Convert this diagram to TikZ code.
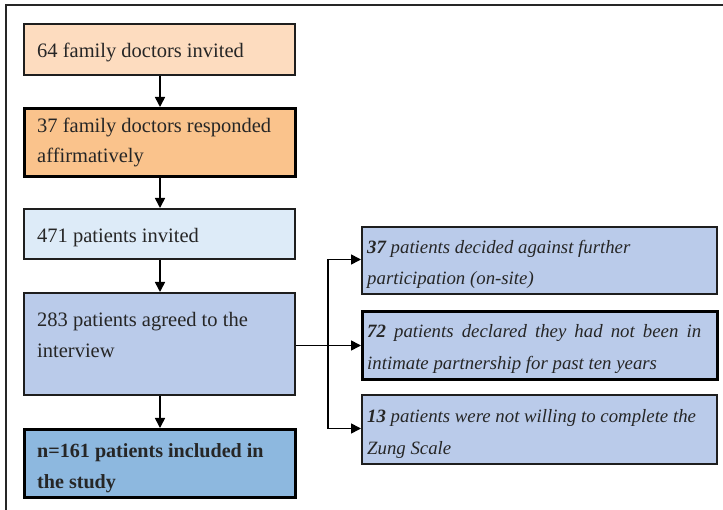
\documentclass[tikz,border=0pt]{standalone}
\usepackage{fontspec}
\setmainfont{Liberation Serif}
\usetikzlibrary{arrows.meta}
\definecolor{cPeach}{HTML}{FDDCBF}
\definecolor{cOrange}{HTML}{FAC38C}
\definecolor{cPale}{HTML}{DDEBF8}
\definecolor{cPeri}{HTML}{BACBEA}
\definecolor{cMid}{HTML}{8DB8DF}
\definecolor{cLine}{HTML}{1E1E1E}
\tikzset{
  box/.style={draw=cLine, line width=1.6pt, rectangle, inner sep=0pt, anchor=north west},
  thickbox/.style={box, draw=black, line width=3pt},
  txt/.style={anchor=base west, inner sep=0pt, font=\fontsize{20.5}{30}\selectfont, text=black!85},
  btxt/.style={txt, font=\fontsize{20.1}{30}\selectfont\bfseries},
  itxt/.style={txt, font=\fontsize{18.8}{30}\selectfont\itshape},
  conn/.style={line width=1.6pt, draw=black},
  arr/.style={conn, -{Triangle[length=10pt,width=10pt]}},
}
\begin{document}
\begin{tikzpicture}[x=1pt,y=-1pt]
\useasboundingbox (0,0) rectangle (723,510);
% outer frame
\draw[line width=2pt, draw=black!85] (6,514) -- (6,5) -- (725,5);

% left column
\node[box, fill=cPeach, minimum width=271pt, minimum height=51pt] (b1) at (23,23) {};
\node[thickbox, fill=cOrange, minimum width=271pt, minimum height=68pt] (b2) at (23,107) {};
\node[box, fill=cPale, minimum width=271pt, minimum height=50pt] (b3) at (23,208) {};
\node[box, fill=cPeri, minimum width=271pt, minimum height=102pt] (b4) at (23,292) {};
\node[thickbox, fill=cMid, minimum width=271pt, minimum height=68pt] (b5) at (23,428) {};

\node[txt] (t1) at (37,58) {64 family doctors invited};
\node[txt] (t2a) at (37,133) {37 family doctors responded};
\node[txt] (t2b) at (37,163) {affirmatively};
\node[txt] (t3) at (37,243) {471 patients invited};
\node[txt] (t4a) at (37,327) {283 patients agreed to the};
\node[txt] (t4b) at (37,358) {interview};
\node[btxt] (t5a) at (37,457) {n=161 patients included in};
\node[btxt] (t5b) at (37,488) {the study};

% right column
\node[box, fill=cPeri, minimum width=355pt, minimum height=67pt] (r1) at (361,226) {};
\node[thickbox, fill=cPeri, minimum width=355pt, minimum height=68pt] (r2) at (361,310) {};
\node[box, fill=cPeri, line width=2.2pt, minimum width=355pt, minimum height=69pt] (r3) at (361,394) {};

\node[itxt] (s1a) at (367,254) {\textbf{37} patients decided against further};
\node[itxt] (s1b) at (367,285) {participation (on-site)};
\node[itxt] (s2a) at (367,338) {\makebox[334pt][s]{\textbf{72} patients declared they had not been in}};
\node[itxt] (s2b) at (367,370) {intimate partnership for past ten years};
\node[itxt] (s3a) at (367,423) {\textbf{13} patients were not willing to complete the};
\node[itxt] (s3b) at (367,454) {Zung Scale};

% vertical arrows
\draw[arr] (b1.south -| 160,0) -- (b2.north -| 160,0);
\draw[arr] (b2.south -| 160,0) -- (b3.north -| 160,0);
\draw[arr] (b3.south -| 160,0) -- (b4.north -| 160,0);
\draw[arr] (b4.south -| 160,0) -- (b5.north -| 160,0);

% fork
\coordinate (trunkTop) at (328,259.5);
\coordinate (trunkBot) at (328,428.5);
\draw[conn] (trunkTop) -- (trunkBot);
\draw[arr] (b4.east |- r2.west) -- (r2.west);
\draw[arr] ([xshift=-0.8pt]trunkTop) -- (trunkTop -| r1.west);
\draw[arr] ([xshift=-0.8pt]trunkBot) -- (trunkBot -| r3.west);
\end{tikzpicture}
\end{document}
